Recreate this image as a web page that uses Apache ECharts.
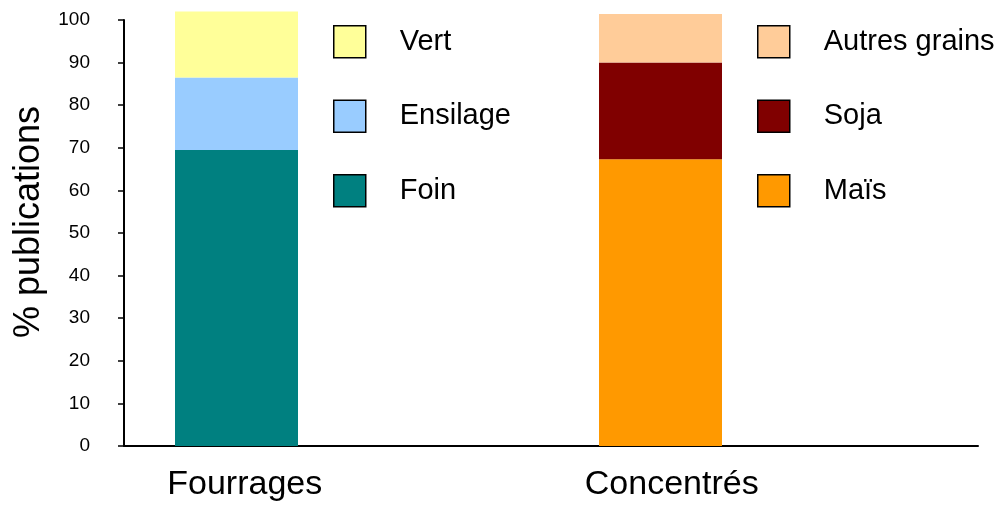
<!DOCTYPE html>
<html>
<head>
<meta charset="utf-8">
<script src="https://cdn.jsdelivr.net/npm/echarts@6/dist/echarts.min.js"></script>
<style>html,body{margin:0;padding:0;background:#fff}#c{width:998px;height:509px}</style>
</head>
<body>
<div id="c"></div>
<script>
// Categories (two empty slots keep the bars in Excel-like positions)
const categories = ['Fourrages', '', 'Concentrés', ''];
// Fourrages composition (% publications)
const foin = [69.5, null, null, null];
const ensilage = [17.0, null, null, null];
const vert = [15.5, null, null, null];
// Concentrés composition (% publications)
const mais = [null, null, 67.3, null];
const soja = [null, null, 22.7, null];
const autresGrains = [null, null, 11.4, null];
// y-axis ticks
const yMin = 0, yMax = 100, yStep = 10;

const FONT = "Arial, 'Liberation Sans', sans-serif";
const colors = {
  'Foin': '#008080', 'Ensilage': '#99CCFF', 'Vert': '#FFFF99',
  'Maïs': '#FF9900', 'Soja': '#800000', 'Autres grains': '#FFCC99'
};
function bar(name, data) {
  return {
    name: name, type: 'bar', stack: 'total', data: data,
    xAxisIndex: 1, yAxisIndex: 1,
    barWidth: 123, clip: false,
    itemStyle: { color: colors[name] },
    emphasis: { disabled: true }
  };
}
const legendCommon = {
  orient: 'vertical', top: 25, padding: 0, itemGap: 41,
  itemWidth: 32, itemHeight: 32, icon: 'rect',
  itemStyle: { borderColor: '#000', borderWidth: 1.5 },
  textStyle: { fontFamily: FONT, fontSize: 29, color: '#000', padding: [0, 0, 0, 29] },
  selectedMode: false
};
const chart = echarts.init(document.getElementById('c'), null, { renderer: 'canvas' });
chart.setOption({
  animation: false,
  backgroundColor: '#fff',
  grid: [
    { left: 124, right: 20, top: 20, bottom: 63, containLabel: false },
    { left: 130.5, right: 19.5, top: 20, bottom: 63, containLabel: false }
  ],
  legend: [
    Object.assign({}, legendCommon, { left: 333, data: ['Vert', 'Ensilage', 'Foin'] }),
    Object.assign({}, legendCommon, { left: 757, data: ['Autres grains', 'Soja', 'Maïs'] })
  ],
  xAxis: [{
    gridIndex: 0, type: 'category', data: categories,
    axisLine: { lineStyle: { color: '#000', width: 2 } },
    axisTick: { show: false },
    axisLabel: { fontFamily: FONT, fontSize: 34, color: '#000', margin: 22, padding: [0, 0, 0, 28], interval: 0 }
  }, {
    gridIndex: 1, type: 'category', data: categories, show: false
  }],
  yAxis: [{
    gridIndex: 0, type: 'value', min: yMin, max: yMax, interval: yStep,
    name: '% publications', nameLocation: 'middle', nameGap: 77,
    nameTextStyle: { fontFamily: FONT, fontSize: 36, color: '#000', padding: [0, 0, 0, 22] },
    axisLine: { show: true, lineStyle: { color: '#000', width: 2 } },
    axisTick: { show: true, length: 6, lineStyle: { color: '#000', width: 1.5 } },
    axisLabel: { fontFamily: FONT, fontSize: 19, color: '#000', margin: 34 },
    splitLine: { show: false }
  }, {
    gridIndex: 1, type: 'value', min: yMin, max: yMax, interval: yStep, show: false,
    splitLine: { show: false }
  }],
  series: [
    bar('Foin', foin), bar('Ensilage', ensilage), bar('Vert', vert),
    bar('Maïs', mais), bar('Soja', soja), bar('Autres grains', autresGrains)
  ]
});
</script>
</body>
</html>
